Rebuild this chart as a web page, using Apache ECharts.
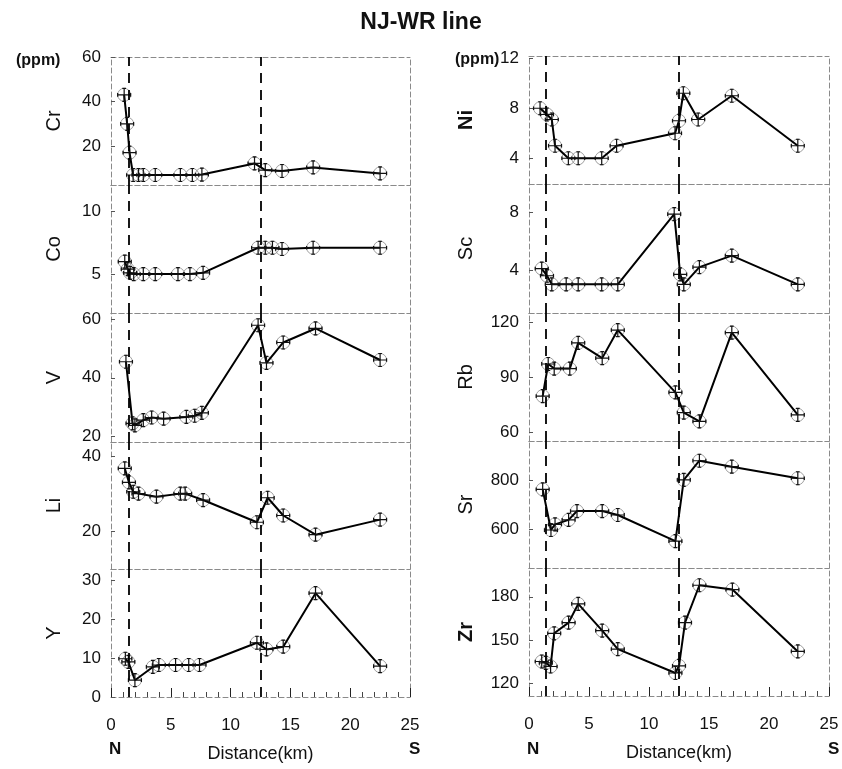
<!DOCTYPE html>
<html>
<head>
<meta charset="utf-8">
<script src="https://cdn.jsdelivr.net/npm/echarts@6/dist/echarts.min.js"></script>
<style>
html,body{margin:0;padding:0;background:#fff;}
#chart{width:842px;height:769px;}
</style>
</head>
<body>
<div id="chart"></div>
<script>
// ---- Data: [distance (km), concentration (ppm)] ----
const Cr = [[1.1,43],[1.35,30],[1.55,17],[1.85,7],[2.3,7],[2.7,7],[3.7,7],[5.8,7],[6.8,7],[7.6,7.2],[12.0,12.2],[12.9,9.2],[14.3,8.8],[16.9,10.4],[22.5,7.7]];
const Co = [[1.15,6.0],[1.4,5.4],[1.6,5.1],[1.9,5.0],[2.7,5.0],[3.7,5.0],[5.6,5.0],[6.6,5.0],[7.7,5.1],[12.3,7.1],[12.9,7.1],[13.5,7.1],[14.3,7.0],[16.9,7.1],[22.5,7.1]];
const V  = [[1.25,45.5],[1.8,24.4],[2.0,23.7],[2.7,25.5],[3.4,26.4],[4.4,26],[6.3,26.6],[7.0,27],[7.6,28],[12.3,58],[13.0,45.1],[14.4,52.1],[17.1,56.9],[22.5,46.1]];
const Li = [[1.15,36.7],[1.5,33],[1.86,30.5],[2.3,30],[3.8,29.2],[5.8,30],[6.2,30],[7.7,28.3],[12.2,22.4],[13.1,28.9],[14.4,24.2],[17.1,19.1],[22.5,23.1]];
const Y  = [[1.2,9.8],[1.45,9],[2.0,4.3],[3.5,7.7],[4.0,8.2],[5.4,8.2],[6.5,8.2],[7.4,8.2],[12.2,13.9],[13.0,12.2],[14.4,12.9],[17.1,26.6],[22.5,7.9]];
const Ni = [[0.92,8],[1.5,7.5],[1.9,7.1],[2.17,5],[3.28,4],[4.1,4],[6.06,4],[7.3,5],[12.17,6],[12.5,7],[12.86,9.2],[14.1,7.1],[16.9,9],[22.4,5]];
const Sc = [[1.06,4.1],[1.5,3.6],[1.9,3],[3.1,3],[4.1,3],[6.06,3],[7.4,3],[12.1,7.9],[12.6,3.7],[12.9,3],[14.2,4.2],[16.9,5],[22.4,3]];
const Rb = [[1.14,80],[1.6,97.5],[2.1,95],[3.4,95],[4.1,109],[6.1,100.7],[7.4,116],[12.2,82],[12.9,71],[14.2,66.2],[16.9,114.6],[22.4,69.7]];
const Sr = [[1.14,762],[1.83,597],[2.17,620],[3.3,638],[4.0,674],[6.1,674],[7.4,658],[12.2,552],[12.9,800],[14.2,878],[16.9,854],[22.4,807]];
const Zr = [[1.06,135],[1.4,134],[1.8,131.5],[2.1,154.6],[3.3,162],[4.1,175],[6.1,156.5],[7.4,143.6],[12.2,127],[12.5,132],[13.0,162],[14.2,188],[16.95,185],[22.4,142]];

// tick labels
const xTicks = [0,5,10,15,20,25];
const ticksCr = [20,40,60], ticksCo = [5,10], ticksV = [20,40,60], ticksLi = [20,40], ticksY = [0,10,20,30];
const ticksNi = [4,8,12], ticksSc = [4,8], ticksRb = [60,90,120], ticksSr = [600,800], ticksZr = [120,150,180];
// boundary (dashed) lines, km
const boundLeft = [1.5,12.5], boundRight = [1.4,12.5];

const panels = [
  {name:'Cr', data:Cr, min:2.5, max:60,   ticks:ticksCr, col:0, row:0},
  {name:'Co', data:Co, min:1.9, max:12.1, ticks:ticksCo, col:0, row:1},
  {name:'V',  data:V,  min:18,  max:62.2, ticks:ticksV,  col:0, row:2},
  {name:'Li', data:Li, min:10,  max:43.7, ticks:ticksLi, col:0, row:3},
  {name:'Y',  data:Y,  min:0,   max:32.8, ticks:ticksY,  col:0, row:4},
  {name:'Ni', data:Ni, min:1.94,max:12.18,ticks:ticksNi, col:1, row:0, bold:true},
  {name:'Sc', data:Sc, min:1,   max:10,   ticks:ticksSc, col:1, row:1},
  {name:'Rb', data:Rb, min:55.5,max:125.3,ticks:ticksRb, col:1, row:2},
  {name:'Sr', data:Sr, min:443, max:958,  ticks:ticksSr, col:1, row:3},
  {name:'Zr', data:Zr, min:111, max:200,  ticks:ticksZr, col:1, row:4, bold:true}
];

const layout = [
  {left:111, width:299, tops:[57,185,313,442,569], bottom:697, nameGap:47},
  {left:529, width:300, tops:[56,184,313,441,568], bottom:696, nameGap:53}
];

const FONT = 'Liberation Sans, Arial, sans-serif';
const frameLine = {show:true, onZero:false, lineStyle:{color:'#8a8a8a', width:1, type:[5,3]}};
const crossPath = 'path://M0,7L14,7M7,0L7,14M0,5L0,9M14,5L14,9M5,0L9,0M5,14L9,14';

const grid = [], xAxis = [], yAxis = [], series = [];
panels.forEach((p, i) => {
  const L = layout[p.col];
  const top = L.tops[p.row];
  const h = (p.row < 4 ? L.tops[p.row+1] : L.bottom) - top;
  grid.push({left:L.left, top:top, width:L.width, height:h});
  const bottom = p.row === 4;
  const xi = xAxis.length;
  xAxis.push({
    gridIndex:i, type:'value', min:0, max:25, interval:5,
    axisLine:frameLine,
    axisTick:{show:bottom, inside:true, length:9, lineStyle:{color:'#222'}},
    minorTick:{show:bottom, splitNumber:5, length:5, lineStyle:{color:'#444'}},
    axisLabel:{show:bottom, margin:20, fontSize:17, color:'#111', fontFamily:FONT},
    splitLine:{show:false},
    name: bottom ? 'Distance(km)' : '', nameLocation:'middle', nameGap:48,
    nameTextStyle:{fontSize:18, color:'#111', fontFamily:FONT}
  });
  xAxis.push({gridIndex:i, type:'value', min:0, max:25, position:'top',
    axisLine:frameLine, axisTick:{show:false}, axisLabel:{show:false}, splitLine:{show:false}});
  const yi = yAxis.length;
  yAxis.push({
    gridIndex:i, type:'value', min:p.min, max:p.max,
    axisLine:frameLine,
    axisTick:{show:true, inside:true, length:4, customValues:p.ticks, lineStyle:{color:'#555'}},
    axisLabel:{show:true, customValues:p.ticks, margin:10, fontSize:17, color:'#111', fontFamily:FONT},
    splitLine:{show:false},
    name:p.name, nameLocation:'middle', nameRotate:90, nameGap:L.nameGap,
    nameTextStyle:{fontSize:20, color:'#111', fontFamily:FONT, fontWeight: p.bold ? 'bold' : 'normal'}
  });
  yAxis.push({gridIndex:i, type:'value', min:p.min, max:p.max, position:'right',
    axisLine:frameLine, axisTick:{show:false}, axisLabel:{show:false}, splitLine:{show:false}});
  const bounds = p.col === 0 ? boundLeft : boundRight;
  series.push({
    type:'line', xAxisIndex:xi, yAxisIndex:yi, data:p.data, z:3,
    lineStyle:{color:'#000', width:2},
    symbol:crossPath, symbolSize:[13,13], showAllSymbol:true,
    itemStyle:{color:'rgba(0,0,0,0)', borderColor:'#111', borderWidth:1.2},
    emphasis:{disabled:true}, animation:false,
    markLine:{silent:true, symbol:['none','none'], label:{show:false},
      lineStyle:{color:'#000', width:1.8, type:[10,7]},
      data:bounds.map(b => ({xAxis:b}))}
  });
  series.push({
    type:'scatter', xAxisIndex:xi, yAxisIndex:yi, data:p.data, z:2,
    symbol:'circle', symbolSize:13,
    itemStyle:{color:'rgba(0,0,0,0)', borderColor:'#8a8a8a', borderWidth:1},
    emphasis:{disabled:true}, animation:false
  });
});

const title = [
  {text:'NJ-WR line', left:'center', top:6, textStyle:{fontSize:23, fontWeight:'bold', color:'#111', fontFamily:FONT}},
  {text:'(ppm)', left:11, top:48, textStyle:{fontSize:16, fontWeight:'bold', color:'#111', fontFamily:FONT}},
  {text:'(ppm)', left:450, top:47, textStyle:{fontSize:16, fontWeight:'bold', color:'#111', fontFamily:FONT}},
  {text:'N', left:104, top:736, textStyle:{fontSize:17, fontWeight:'bold', color:'#111', fontFamily:FONT}},
  {text:'S', left:404, top:736, textStyle:{fontSize:17, fontWeight:'bold', color:'#111', fontFamily:FONT}},
  {text:'N', left:522, top:736, textStyle:{fontSize:17, fontWeight:'bold', color:'#111', fontFamily:FONT}},
  {text:'S', left:823, top:736, textStyle:{fontSize:17, fontWeight:'bold', color:'#111', fontFamily:FONT}}
];

const chart = echarts.init(document.getElementById('chart'), null, {renderer:'canvas'});
chart.setOption({backgroundColor:'#fff', animation:false, title, grid, xAxis, yAxis, series});
</script>
</body>
</html>
